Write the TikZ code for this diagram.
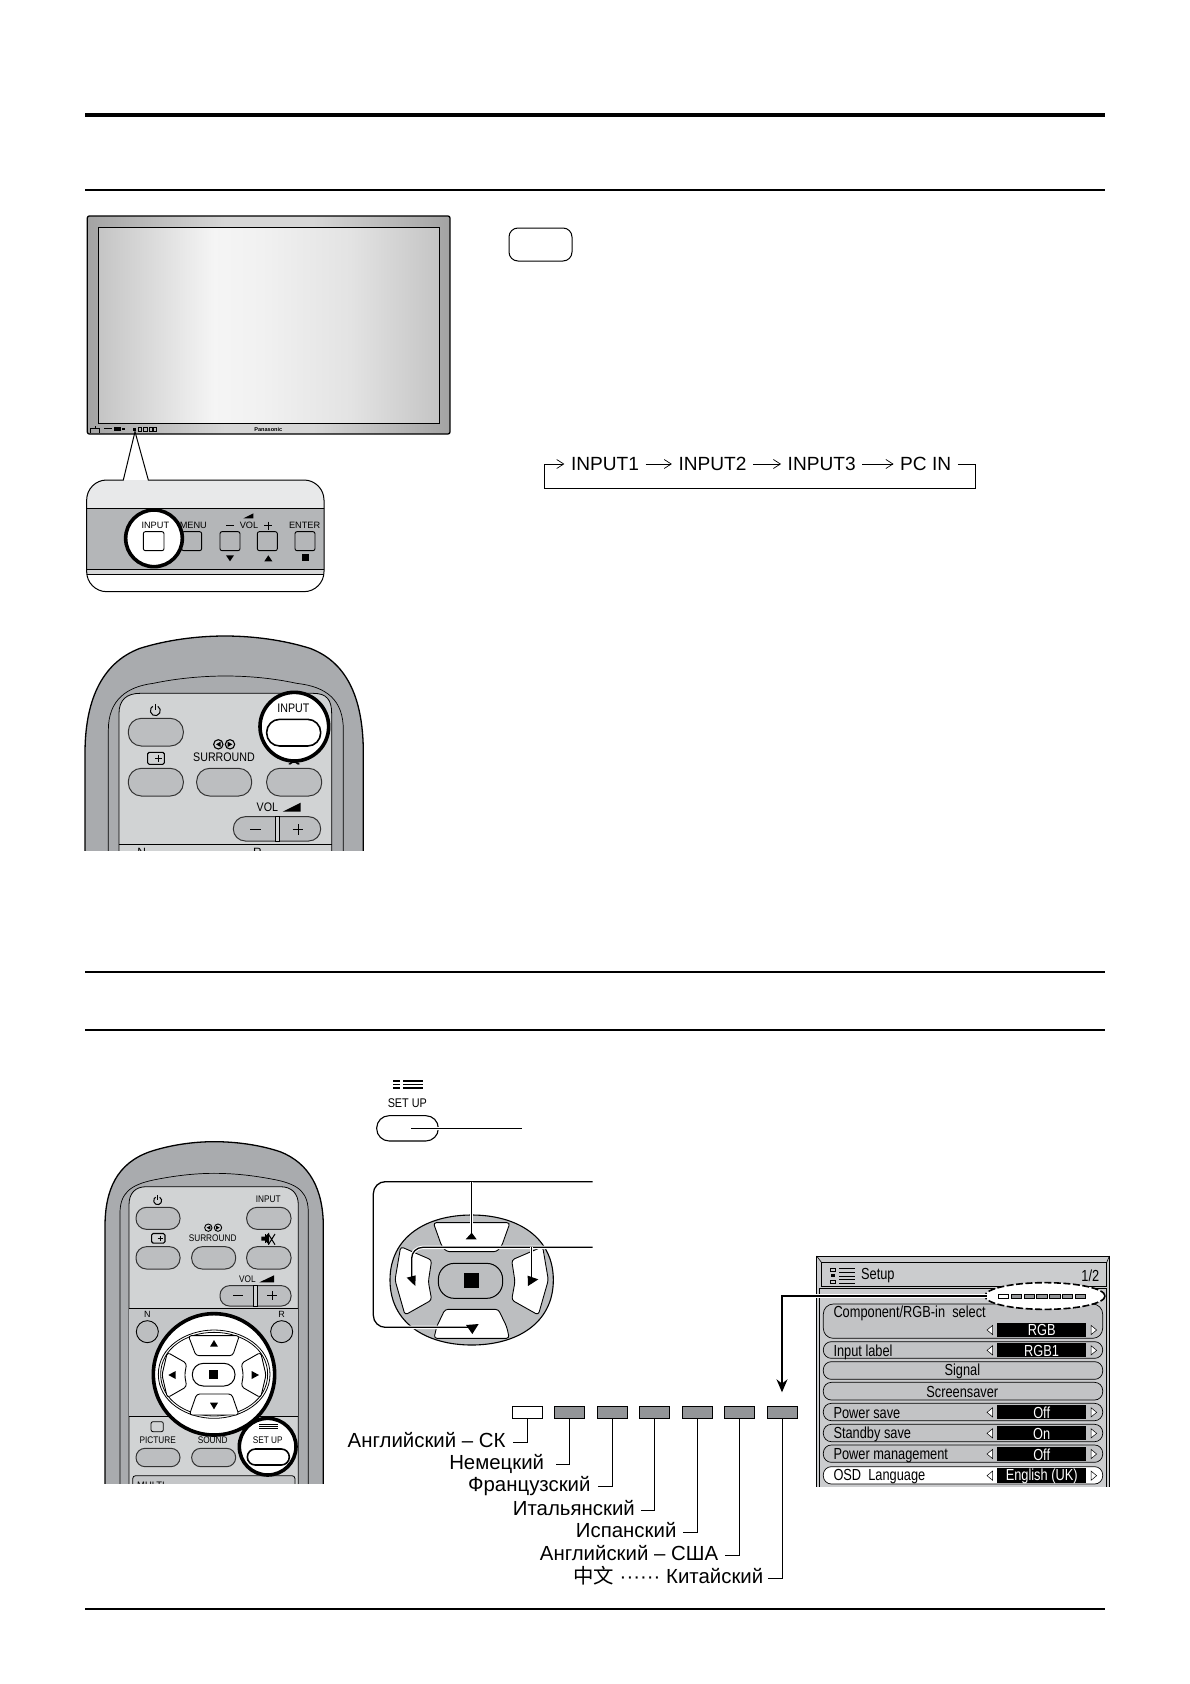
\documentclass[tikz,border=0pt]{standalone}
\usepackage{fontspec}
\setmainfont{Liberation Sans}
\newfontfamily\cjk{Noto Sans CJK SC}
\usetikzlibrary{arrows.meta}
\definecolor{bodyg}{HTML}{A9ABAE}
\definecolor{panelg}{HTML}{D1D3D4}
\definecolor{midg}{HTML}{C4C6C8}
\definecolor{btng}{HTML}{BCBEC0}
\definecolor{bandg}{HTML}{B4B6B8}
\definecolor{topg}{HTML}{E8E9EA}
\definecolor{tabg}{HTML}{939598}
\definecolor{menug}{HTML}{CBCCCE}
\definecolor{rowg}{HTML}{C2C3C5}
\definecolor{sA}{gray}{0.77}
\definecolor{sB}{gray}{0.96}
\definecolor{sC}{gray}{0.945}
\definecolor{sD}{gray}{0.89}
\definecolor{fA}{gray}{0.64}
\definecolor{fB}{gray}{0.84}
\pgfdeclarehorizontalshading{screenshade}{100bp}{color(0bp)=(sA); color(25bp)=(sA); color(42bp)=(sB); color(49bp)=(sC); color(62bp)=(sD); color(75bp)=(sA); color(100bp)=(sA)}
\pgfdeclarehorizontalshading{frameshade}{100bp}{color(0bp)=(fA); color(25bp)=(fA); color(44bp)=(fB); color(56bp)=(fB); color(75bp)=(fA); color(100bp)=(fA)}
\tikzset{
  ft/.style={font=\fontsize{#1}{#1}\selectfont,inner sep=0pt},
  ftx/.style={font=\fontsize{#1}{#1}\selectfont,inner sep=0pt,xscale=.86},
  rule/.style={line width=#1,black},
  pillbtn/.style={draw=black!80,line width=1pt,fill=btng,rounded corners=#1},
  keybtn/.style={draw=black,line width=.9pt,fill=#1,rounded corners=2pt},
  ring/.style={draw=black,line width=3.6pt,fill=white},
  lead/.style={draw=black,line width=.9pt},
  flowarrow/.style={draw=black,line width=.7pt,-{Straight Barb[length=7pt,width=9pt]}},
  halo/.style={preaction={draw=white,line width=3.4pt}},
  padline/.style={draw=black,line width=1.3pt},
  padkey/.style={draw=black,line width=.9pt,fill=white,rounded corners=3pt},
  tab/.style={draw=black,line width=.8pt,fill=#1,inner sep=0pt,minimum width=30pt,minimum height=12pt},
  lang/.style={font=\fontsize{20.4}{20.4}\selectfont,inner ysep=0pt,inner xsep=#1,anchor=east,text height=14pt,text depth=4pt},
  row/.style={draw=black,line width=.7pt,fill=rowg,rounded corners=#1},
  menutxt/.style={font=\fontsize{16}{16}\selectfont,inner sep=0pt,xscale=.8},
}
% power icon, centre x y, radius r (in the units of the scope)
\newcommand{\powericon}[3]{%
  \draw[line width=1pt] ({#1+0.5*#3},{#2-0.866*#3}) arc[start angle=-60,end angle=240,radius=#3];
  \draw[line width=1pt] (#1,{#2-1.35*#3}) -- (#1,{#2-0.1*#3});}
\newcommand{\plusbox}[3]{%
  \draw[line width=1.1pt,rounded corners=1.5pt] ({#1-#3},{#2-0.72*#3}) rectangle ({#1+#3},{#2+0.72*#3});
  \draw[line width=1.1pt] (#1+0.3*#3,{#2-0.4*#3}) -- (#1+0.3*#3,{#2+0.4*#3}) ({#1-0.1*#3},#2) -- ({#1+0.7*#3},#2);}
\newcommand{\menurowarrows}[1]{%
  \draw[line width=.5pt,fill=white] (578,#1-14) -- (578,#1+14) -- (561,#1) -- cycle;
  \draw[line width=.5pt,fill=white] (873,#1-14) -- (873,#1+14) -- (890,#1) -- cycle;}
\begin{document}
\begin{tikzpicture}[x=1pt,y=-1pt]
\useasboundingbox (0,0) rectangle (1190,1684);
\fill[white] (0,0) rectangle (1190,1684);
% rules
\draw[rule=3.6pt] (85,115) -- (1105,115);
\draw[rule=1.4pt] (85,190) -- (1105,190);
\draw[rule=1.2pt] (85,972) -- (1105,972);
\draw[rule=1.4pt] (85,1030) -- (1105,1030);
\draw[rule=1.4pt] (85,1609) -- (1105,1609);
% monitor and panel
\begin{scope}[shift={(70,200)},x=.33333pt,y=-.33333pt]
  \shade[shading=frameshade,rounded corners=2pt] (52,48) rectangle (1140,702);
  \draw[black,line width=1.3pt,rounded corners=2pt] (52,48) rectangle (1140,702);
  \shade[shading=screenshade] (84,82) rectangle (1108,670);
  \draw[black,line width=.6pt] (84,82) rectangle (1108,670);
  \draw[line width=.5pt] (62,698) -- (62,684) -- (88,684) -- (88,698) (75,684) -- (75,678);
  \draw[line width=.6pt] (103,685) -- (126,685);
  \fill (132,681) rectangle (152,694);
  \fill (157,685) rectangle (164,691);
  \fill (188,683) rectangle (199,694);
  \draw[line width=.5pt] (204,683) rectangle (215,694) (221,683) rectangle (232,694) (238,683) rectangle (248,694) (250,683) rectangle (258,694);
  \node[ft=5.6,font=\fontsize{5.6}{5.6}\selectfont\bfseries] (brand) at (595,687) {Panasonic};
  \def\panelpath{(160,840) -- (195,695) -- (235,840) -- (702,840) .. controls (735,840) and (762,867) .. (762,900) -- (762,1115) .. controls (762,1148) and (735,1175) .. (702,1175) -- (110,1175) .. controls (77,1175) and (50,1148) .. (50,1115) -- (50,900) .. controls (50,867) and (77,840) .. (110,840) -- cycle}
  \fill[white] \panelpath;
  \begin{scope}
    \clip \panelpath;
    \fill[topg] (40,840) rectangle (770,925);
    \fill[bandg] (40,925) rectangle (770,1107);
    \fill[btng!60] (40,1107) rectangle (770,1122);
    \draw[line width=.9pt] (40,925) -- (770,925) (40,1107) -- (770,1107) (40,1122) -- (770,1122);
  \end{scope}
  \draw[black,line width=1pt] \panelpath;
  \draw[keybtn=bandg] (335,995) rectangle (395,1052);
  \draw[keybtn=bandg] (450,995) rectangle (510,1052);
  \draw[keybtn=bandg] (562,995) rectangle (622,1052);
  \draw[keybtn=bandg] (675,995) rectangle (735,1052);
  \node[ft=9.2] (pMenu) at (370,975) {MENU};
  \node[ft=9.2] (pVol) at (537,977) {VOL};
  \node[ft=9.2] (pEnter) at (704,975) {ENTER};
  \draw[line width=1.1pt] (468,977) -- (492,977) (583,977) -- (607,977) (595,965) -- (595,989);
  \fill (520,955) -- (550,940) -- (550,955) -- cycle;
  \fill (468,1066) -- (492,1066) -- (480,1084) -- cycle;
  \fill (583,1084) -- (607,1084) -- (595,1066) -- cycle;
  \fill (695,1062) rectangle (716,1083);
  \draw[ring] (252,1015) circle[radius=85];
  \draw[keybtn=white] (220,995) rectangle (282,1052);
  \node[ft=9.2] (pInput) at (256,975) {INPUT};
\end{scope}
% small rounded box
\draw[black,line width=1pt,rounded corners=9pt] (509,228) rectangle (572,261);
% input flow
\node[ft=19.1,inner xsep=6.5pt] (i1) at (605,464) {INPUT1};
\node[ft=19.1,inner xsep=6.5pt] (i2) at (712.5,464) {INPUT2};
\node[ft=19.1,inner xsep=6.5pt] (i3) at (821.7,464) {INPUT3};
\node[ft=19.1,inner xsep=6.5pt] (i4) at (925.7,464) {PC IN};
\coordinate (fa) at (544.3,464);
\coordinate (fb) at (544.3,488.3);
\coordinate (fc) at (975,488.3);
\coordinate (fd) at (975,464);
\draw[flowarrow] (i1.east) -- (i2.west);
\draw[flowarrow] (i2.east) -- (i3.west);
\draw[flowarrow] (i3.east) -- (i4.west);
\draw[flowarrow] (i4.east) -- (fd) -- (fc) -- (fb) -- (fa) -- (i1.west);
% remote 1
\begin{scope}[shift={(70,620)},x=.33333pt,y=-.33333pt]
  \clip (0,0) rectangle (960,690);
  \draw[black,line width=1.3pt,fill=bodyg] (45,700) -- (45,400) .. controls (45,250) and (90,130) .. (210,85) .. controls (290,60) and (380,48) .. (465,48) .. controls (550,48) and (640,60) .. (720,85) .. controls (840,130) and (880,250) .. (880,400) -- (880,700) -- cycle;
  \draw[black,line width=.7pt] (115,700) -- (115,330) .. controls (115,240) and (170,200) .. (250,190) .. controls (320,175) and (400,168) .. (465,168) .. controls (540,168) and (610,175) .. (680,190) .. controls (770,200) and (820,240) .. (820,330) -- (820,700);
  \draw[black,line width=.8pt,fill=panelg] (147,700) -- (147,280) .. controls (147,240) and (170,220) .. (210,220) -- (730,220) .. controls (770,220) and (785,240) .. (785,280) -- (785,700) -- cycle;
  \draw[line width=.8pt] (147,672) -- (785,672);
  \powericon{256}{272}{15}
  \plusbox{258}{415}{25}
  \draw[line width=1.1pt] (445,373) circle[radius=14] (480,373) circle[radius=14];
  \fill (438,373) -- (452,365) -- (452,381) -- cycle (487,373) -- (473,365) -- (473,381) -- cycle;
  \node[ftx=12.4] (aSur) at (462,412) {SURROUND};
  \draw[pillbtn=13pt] (175,295) rectangle (340,378);
  \draw[pillbtn=13pt] (175,445) rectangle (340,528);
  \draw[pillbtn=13pt] (380,445) rectangle (545,528);
  \fill (655,432) -- (672,420) -- (690,432) -- (684,434) -- (672,426) -- (660,434) -- cycle;
  \draw[pillbtn=13pt] (590,445) rectangle (755,528);
  \node[ftx=12.4] (aVol) at (592,563) {VOL};
  \fill (638,575) -- (692,575) -- (692,548) -- cycle;
  \draw[pillbtn=12pt] (490,590) rectangle (752,663);
  \draw[line width=.8pt,fill=panelg] (615,590) rectangle (628,663);
  \draw[line width=.8pt] (540,628) -- (572,628) (668,628) -- (700,628) (684,612) -- (684,644);
  \node[ft=12] (aN) at (215,696) {N};
  \node[ft=12] (aR) at (562,696) {R};
  \draw[ring] (673,320) circle[radius=103];
  \draw[draw=black,line width=1.6pt,fill=white,rounded corners=13pt] (590,298) rectangle (752,378);
  \node[ftx=12.4] (aInput) at (670,265) {INPUT};
\end{scope}
% remote 2
\begin{scope}[shift={(90,1130)},x=.33333pt,y=-.33333pt]
  \clip (0,0) rectangle (760,1060);
  \draw[black,line width=1.3pt,fill=bodyg] (45,1070) -- (45,290) .. controls (45,180) and (80,100) .. (180,65) .. controls (240,45) and (310,35) .. (372,35) .. controls (440,35) and (510,45) .. (570,65) .. controls (660,100) and (700,180) .. (700,290) -- (700,1070) -- cycle;
  \draw[black,line width=.7pt] (90,1070) -- (90,250) .. controls (90,190) and (120,165) .. (190,150) .. controls (250,138) and (310,130) .. (372,130) .. controls (440,130) and (500,138) .. (560,150) .. controls (630,165) and (655,190) .. (655,250) -- (655,1070);
  \draw[black,line width=.8pt,fill=panelg] (117,1070) -- (117,225) .. controls (117,190) and (135,170) .. (170,170) -- (570,170) .. controls (605,170) and (625,190) .. (625,225) -- (625,1070) -- cycle;
  \fill[midg] (117,535) rectangle (625,858);
  \draw[line width=.8pt] (117,535) -- (625,535) (117,858) -- (625,858);
  \powericon{203}{212}{12}
  \node[ftx=9.6] (bInput) at (535,209) {INPUT};
  \draw[pillbtn=10.5pt] (138,232) rectangle (270,298);
  \draw[pillbtn=10.5pt] (470,232) rectangle (603,298);
  \plusbox{205}{325}{20}
  \draw[line width=.9pt] (355,293) circle[radius=11] (384,293) circle[radius=11];
  \fill (350,293) -- (361,287) -- (361,299) -- cycle (389,293) -- (378,287) -- (378,299) -- cycle;
  \node[ftx=9.6] (bSur) at (368,325) {SURROUND};
  \draw[line width=.9pt] (526,312) -- (526,340);
  \fill (514,320) -- (525,320) -- (537,308) -- (537,344) -- (525,332) -- (514,332) -- cycle;
  \draw[line width=1pt] (535,312) -- (555,344) (555,312) -- (535,344);
  \draw[pillbtn=10.5pt] (138,350) rectangle (270,417);
  \draw[pillbtn=10.5pt] (305,350) rectangle (437,417);
  \draw[pillbtn=10.5pt] (470,350) rectangle (603,417);
  \node[ftx=9.6] (bVol) at (472,447) {VOL};
  \fill (508,457) -- (552,457) -- (552,436) -- cycle;
  \draw[pillbtn=9.5pt] (390,467) rectangle (603,528);
  \draw[line width=.8pt,fill=panelg] (490,467) rectangle (502,528);
  \draw[line width=.7pt] (430,497) -- (458,497) (532,497) -- (560,497) (546,484) -- (546,510);
  \node[ft=9] (bN) at (172,554) {N};
  \node[ft=9] (bR) at (575,554) {R};
  \draw[line width=.9pt,fill=btng] (172,605) circle[radius=33] (575,605) circle[radius=33];
  \draw[line width=.8pt,rounded corners=2pt] (183,875) rectangle (220,905);
  \node[ftx=9.6] (bPic) at (203,930) {PICTURE};
  \node[ftx=9.6] (bSnd) at (368,930) {SOUND};
  \draw[pillbtn=9pt] (138,955) rectangle (270,1010);
  \draw[pillbtn=9pt] (305,955) rectangle (437,1010);
  \draw[line width=.8pt,rounded corners=3pt,fill=midg] (128,1037) rectangle (615,1090);
  \node[ft=9.4] (bMulti) at (183,1066) {MULTI};
  % navigation circle
  \draw[ring] (372,733) circle[radius=182];
  \draw[line width=.8pt] (205,733) .. controls (205,650) and (290,600) .. (372,600) .. controls (455,600) and (540,650) .. (540,733) .. controls (540,815) and (455,865) .. (372,865) .. controls (290,865) and (205,815) .. (205,733) -- cycle;
  \draw[line width=.8pt] (212,733) .. controls (212,655) and (290,607) .. (372,607) .. controls (455,607) and (533,655) .. (533,733) .. controls (533,810) and (455,858) .. (372,858) .. controls (290,858) and (212,810) .. (212,733) -- cycle;
  \draw[padkey] (295,617) -- (448,617) -- (428,677) -- (318,677) -- cycle;
  \draw[padkey] (298,855) -- (447,855) -- (425,792) -- (320,792) -- cycle;
  \draw[padkey] (232,667) -- (290,700) -- (284,735) -- (290,770) -- (232,803) -- (216,735) -- cycle;
  \draw[padkey] (512,667) -- (454,700) -- (460,735) -- (454,770) -- (512,803) -- (528,735) -- cycle;
  \draw[line width=1pt,fill=white,rounded corners=11pt] (307,700) rectangle (435,768);
  \fill (357,720) rectangle (385,748);
  \fill (372,630) -- (384,650) -- (360,650) -- cycle;
  \fill (372,838) -- (384,818) -- (360,818) -- cycle;
  \fill (235,735) -- (257,723) -- (257,747) -- cycle;
  \fill (507,735) -- (485,723) -- (485,747) -- cycle;
  % set up circle
  \draw[ring] (533,950) circle[radius=85];
  \draw[line width=.8pt] (507,884) -- (563,884) (507,890) -- (563,890) (507,896) -- (563,896);
  \node[ftx=9.6] (bSetup) at (533,930) {SET UP};
  \draw[draw=black,line width=1.6pt,fill=white,rounded corners=8pt] (472,957) rectangle (598,1005);
\end{scope}
% set up key and pad diagram
\begin{scope}[shift={(350,1070)},x=.33333pt,y=-.33333pt]
  \foreach \yy in {33,43,53} { \fill (130,\yy-2.5) rectangle (150,\yy+2.5); \fill (158,\yy-2.5) rectangle (220,\yy+2.5); }
  \node[ftx=12.6] (dSetup) at (172,100) {SET UP};
  \draw[black,line width=1.1pt,fill=white,rounded corners=12.5pt] (80,137) rectangle (265,213);
  \coordinate (su1) at (183,175);
  \coordinate (su2) at (515,175);
  \draw[padline,halo] (su1) -- (su2);
  \draw[black,line width=1.1pt,fill=btng] (120,630) .. controls (120,500) and (230,435) .. (365,435) .. controls (500,435) and (610,500) .. (610,630) .. controls (610,760) and (500,825) .. (365,825) .. controls (230,825) and (120,760) .. (120,630) -- cycle;
  \draw[padkey] (250,458) -- (480,458) -- (455,528) -- (440,545) -- (290,545) -- (275,528) -- cycle;
  \draw[padkey] (152,530) -- (245,570) -- (235,635) -- (245,690) -- (165,735) -- (135,630) -- cycle;
  \draw[padkey] (578,530) -- (485,570) -- (495,635) -- (485,690) -- (565,735) -- (595,630) -- cycle;
  \draw[padkey] (285,718) -- (445,718) -- (470,770) -- (478,805) -- (252,805) -- (260,770) -- cycle;
  \draw[line width=1pt,fill=btng,rounded corners=16pt] (265,580) rectangle (458,685);
  \fill (342,608) rectangle (388,654);
  \coordinate (fr1) at (728,335);
  \coordinate (fr2) at (365,335);
  \coordinate (fr3) at (365,495);
  \coordinate (fr4) at (70,335);
  \coordinate (fr5) at (70,772);
  \coordinate (fr6) at (362,772);
  \coordinate (ar1) at (728,532);
  \coordinate (ar2) at (185,532);
  \coordinate (ar3) at (185,630);
  \coordinate (ar4) at (545,532);
  \coordinate (ar5) at (545,630);
  \draw[padline,halo,rounded corners=12pt] (fr1) -- (fr4) -- (fr5) -- (fr6);
  \draw[padline,halo] (fr2) -- (fr3);
  \draw[padline,halo,rounded corners=11pt] (ar1) -- (ar2) -- (ar3);
  \draw[padline,halo] (ar4) -- (ar5);
  \fill (347,508) -- (380,508) -- (365,488) -- cycle;
  \fill (348,765) -- (386,762) -- (367,792) -- cycle;
  \fill (170,623) -- (197,616) -- (196,648) -- cycle;
  \fill (534,648) -- (533,617) -- (565,628) -- cycle;
\end{scope}
% setup menu
\begin{scope}[shift={(800,1240)},x=.33333pt,y=-.33333pt]
  \fill[menug] (50,48) rectangle (928,740);
  \draw[line width=.9pt] (50,740) -- (50,48) -- (928,48) -- (928,740);
  \draw[line width=.6pt] (50,48) -- (65,68) (928,48) -- (920,68);
  \draw[line width=.9pt] (65,68) rectangle (920,140);
  \draw[line width=1pt] (58,740) -- (58,146) -- (920,146) -- (920,740);
  \draw[line width=.7pt] (92,85) rectangle (105,93) (92,121) rectangle (105,130);
  \fill (92,103) rectangle (105,110);
  \draw[line width=.7pt] (118,85) -- (165,85) (118,97) -- (165,97) (118,109) -- (165,109) (118,119) -- (165,119) (118,130) -- (165,130);
  \node[menutxt,anchor=west] (mSetup) at (183,108) {Setup};
  \node[menutxt,anchor=east] (mPage) at (898,108) {1/2};
  \draw[row=10pt] (70,192) rectangle (908,295);
  \draw[row=8pt] (70,305) rectangle (908,355);
  \draw[row=8pt] (70,365) rectangle (908,418);
  \draw[row=8pt] (70,427) rectangle (908,480);
  \draw[row=8pt] (70,490) rectangle (908,542);
  \draw[row=8pt] (70,553) rectangle (908,605);
  \draw[row=8pt] (70,615) rectangle (908,667);
  \draw[row=8pt,fill=white] (70,680) rectangle (908,732);
  \node[menutxt,anchor=west] (m1) at (100,220) {Component/RGB-in\ \ select};
  \node[menutxt,anchor=west] (m2) at (100,336) {Input label};
  \node[menutxt] (m3) at (487,394) {Signal};
  \node[menutxt] (m4) at (487,456) {Screensaver};
  \node[menutxt,anchor=west] (m5) at (100,520) {Power save};
  \node[menutxt,anchor=west] (m6) at (100,583) {Standby save};
  \node[menutxt,anchor=west] (m7) at (100,646) {Power management};
  \node[menutxt,anchor=west] (m8) at (100,711) {OSD\ \ Language};
  \fill (591,250) rectangle (858,290);
  \fill (591,309) rectangle (858,352);
  \fill (591,495) rectangle (858,538);
  \fill (591,558) rectangle (858,601);
  \fill (591,621) rectangle (858,663);
  \fill (591,685) rectangle (858,728);
  \node[menutxt,text=white] (v1) at (725,271) {RGB};
  \node[menutxt,text=white] (v2) at (725,332) {RGB1};
  \node[menutxt,text=white] (v3) at (725,518) {Off};
  \node[menutxt,text=white] (v4) at (725,581) {On};
  \node[menutxt,text=white] (v5) at (725,643) {Off};
  \node[menutxt,text=white] (v6) at (725,709) {English (UK)};
  \menurowarrows{270}\menurowarrows{331}\menurowarrows{517}\menurowarrows{580}\menurowarrows{642}\menurowarrows{707}
  \draw[dashed,dash pattern=on 7pt off 2.5pt,line width=1.6pt,fill=white] (735,168) ellipse[x radius=180,y radius=40];
  \foreach \xx [count=\ii] in {595,633,672,710,749,787,826} {
    \ifnum\ii=1\relax \draw[line width=.6pt,fill=white] (\xx,163) rectangle (\xx+31,176);
    \else \draw[line width=.6pt,fill=tabg] (\xx,163) rectangle (\xx+31,176); \fi }
  \coordinate (ellw) at (560,168);
\end{scope}
% language tabs
\node[tab=white] (t1) at (527.3,1412.7) {};
\node[tab=tabg] (t2) at (569.3,1412.7) {};
\node[tab=tabg] (t3) at (612,1412.7) {};
\node[tab=tabg] (t4) at (654.5,1412.7) {};
\node[tab=tabg] (t5) at (697.5,1412.7) {};
\node[tab=tabg] (t6) at (739.7,1412.7) {};
\node[tab=tabg] (t7) at (782,1412.7) {};
\node[lang=7.6pt] (l1) at (513.3,1442.7) {Английский – СК};
\node[lang=11.7pt] (l2) at (556,1464.3) {Немецкий};
\node[lang=7.6pt] (l3) at (598.3,1486.7) {Французский};
\node[lang=5.7pt] (l4) at (640.7,1510) {Итальянский};
\node[lang=6.7pt] (l5) at (683.3,1532) {Испанский};
\node[lang=6.7pt] (l6) at (725,1555) {Английский – США};
\node[lang=4.3pt] (l7) at (767.7,1578.3) {{\cjk 中文} ······ Китайский};
\draw[lead] (t1.south) |- (l1.east);
\draw[lead] (t2.south) |- (l2.east);
\draw[lead] (t3.south) |- (l3.east);
\draw[lead] (t4.south) |- (l4.east);
\draw[lead] (t5.south) |- (l5.east);
\draw[lead] (t6.south) |- (l6.east);
\draw[lead] (t7.south) |- (l7.east);
\draw[padline,halo,-{Stealth[length=13pt,width=11pt]},shorten >=14pt] (ellw) -| (t7.north);
\end{tikzpicture}
\end{document}
